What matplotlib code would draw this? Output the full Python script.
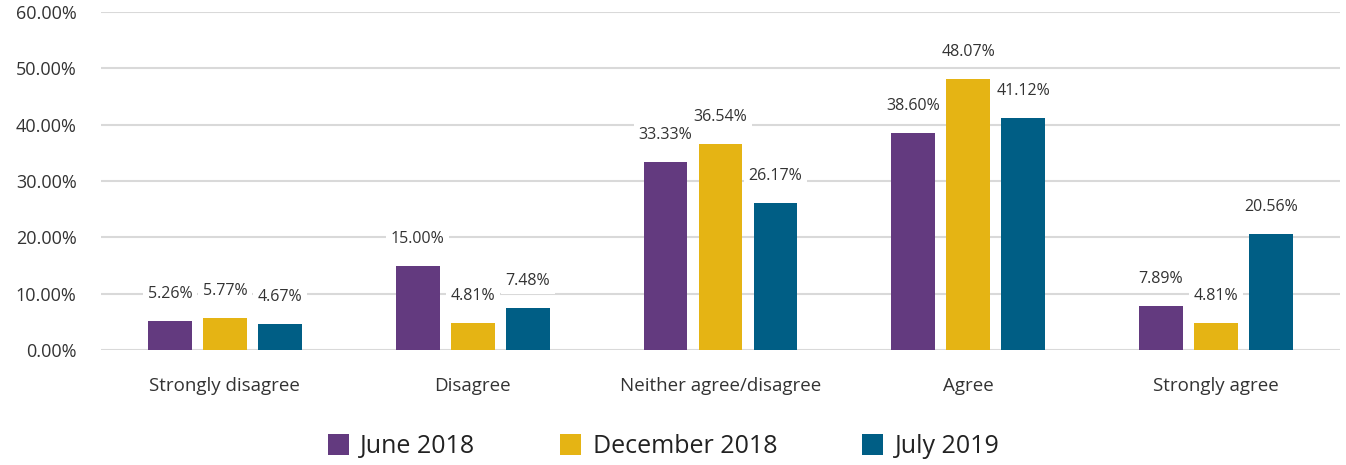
import matplotlib
matplotlib.use("Agg")
import matplotlib.pyplot as plt
import numpy as np
from matplotlib.ticker import FuncFormatter, MultipleLocator

categories = ["Strongly disagree", "Disagree", "Neither agree/disagree", "Agree", "Strongly agree"]
series_names = ["June 2018", "December 2018", "July 2019"]
june_2018 = [5.26, 15.00, 33.33, 38.60, 7.89]
december_2018 = [5.77, 4.81, 36.54, 48.07, 4.81]
july_2019 = [4.67, 7.48, 26.17, 41.12, 20.56]
colors = ["#633A7F", "#E5B414", "#005E85"]

plt.rcParams['font.family'] = ['Open Sans', 'DejaVu Sans']

fig = plt.figure(figsize=(13.46, 4.65), dpi=100)
ax = fig.add_axes([0.075, 0.247, 0.9205, 0.727])

x = np.arange(len(categories))
width = 0.177
offset = 0.222
series = [june_2018, december_2018, july_2019]
handles = []
for i, (vals, c, name) in enumerate(zip(series, colors, series_names)):
    pos = x + (i - 1) * offset
    b = ax.bar(pos, vals, width=width, color=c, label=name, zorder=3)
    handles.append(b)
    for px, v in zip(pos, vals):
        ax.annotate(f"{v:.2f}%", xy=(px, v), xytext=(0, 27), textcoords="offset pixels",
                    ha="center", va="center", fontsize=11.5, color="#333333",
                    bbox=dict(boxstyle="square,pad=0.3", fc="white", ec="none"), zorder=4)

ax.set_xlim(-0.5, len(categories) - 0.5)
ax.set_ylim(0, 60)
ax.yaxis.set_major_locator(MultipleLocator(10))
ax.yaxis.set_major_formatter(FuncFormatter(lambda v, p: f"{v:.2f}%"))
ax.grid(axis="y", color="#D9D9D9", linewidth=1.5, zorder=0)
ax.set_axisbelow(True)
for s in ax.spines.values():
    s.set_visible(False)
ax.tick_params(axis="both", length=0)
ax.tick_params(axis="y", labelsize=13, labelcolor="#333333", pad=17.5)
ax.set_xticks(x)
ax.set_xticklabels(categories, fontsize=13.5, color="#333333")
ax.tick_params(axis="x", pad=19)

fig.legend(handles=handles, labels=series_names, loc="center", bbox_to_anchor=(0.493, 0.04),
           ncol=3, frameon=False, fontsize=18, handlelength=0.85, handleheight=0.95,
           handletextpad=0.45, columnspacing=3.4, labelcolor="#222222")

fig.savefig("out.png", dpi=100, facecolor="white")
